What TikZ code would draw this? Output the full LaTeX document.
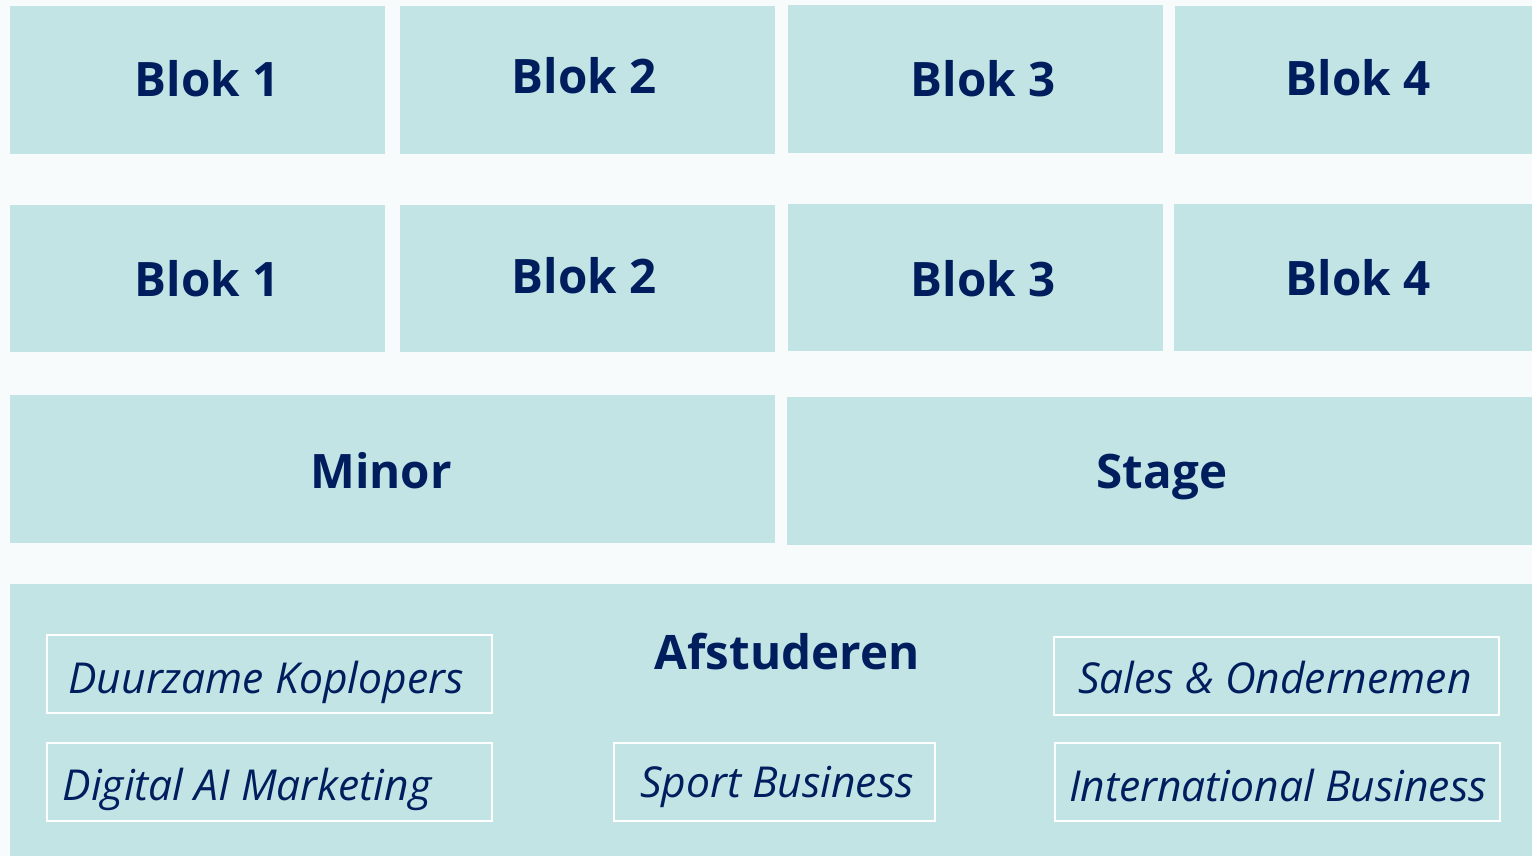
\documentclass[tikz,border=0pt]{standalone}
\usepackage{fontspec}
\setmainfont{Open Sans}
\definecolor{bg}{HTML}{F7FBFC}
\definecolor{boxfill}{HTML}{C2E4E4}
\definecolor{navy}{HTML}{001E5E}
\tikzset{
  cell/.style={fill=boxfill, draw=none, inner sep=0pt, outer sep=0pt},
  title/.style={font=\fontsize{47.5}{57}\selectfont\bfseries, text=navy, anchor=base, inner sep=0pt},
  track/.style={draw=white, line width=2pt, fill=none},
  tracktext/.style={font=\fontsize{42.6}{51}\selectfont\itshape, text=navy, anchor=base, inner sep=0pt},
}
\begin{document}
\begin{tikzpicture}[x=1pt,y=-1pt]
\fill[bg] (0,0) rectangle (1532,856);
\useasboundingbox (0,0) rectangle (1532,856);
% row 1
\path[cell] (10,6) rectangle (385,154);
\path[cell] (400,6) rectangle (775,154);
\path[cell] (788,5) rectangle (1163,153);
\path[cell] (1175,6) rectangle (1532,154);
\node[title] (b11) at (207,97) {Blok 1};
\node[title] (b12) at (584,94) {Blok 2};
\node[title] (b13) at (983,97) {Blok 3};
\node[title] (b14) at (1358,96) {Blok 4};
% row 2
\path[cell] (10,205) rectangle (385,352);
\path[cell] (400,205) rectangle (775,352);
\path[cell] (788,204) rectangle (1163,351);
\path[cell] (1174,204) rectangle (1532,351);
\node[title] (b21) at (207,296) {Blok 1};
\node[title] (b22) at (584,293) {Blok 2};
\node[title] (b23) at (983,296) {Blok 3};
\node[title] (b24) at (1358,295) {Blok 4};
% row 3
\path[cell] (10,395) rectangle (775,543);
\path[cell] (787,397) rectangle (1532,545);
\node[title] (minor) at (381,488) {Minor};
\node[title] (stage) at (1162,488) {Stage};
% row 4
\path[cell] (10,584) rectangle (1532,856);
\node[title] (afst) at (787,669) {Afstuderen};
\draw[track] (47,635) rectangle (492,713);
\draw[track] (47,743) rectangle (492,821);
\draw[track] (614,743) rectangle (935,821);
\draw[track] (1054,637) rectangle (1499,715);
\draw[track] (1055,743) rectangle (1500,821);
\node[tracktext] (duur) at (266,693) {Duurzame Koplopers};
\node[tracktext] (dig) at (247,800) {Digital AI Marketing};
\node[tracktext] (sport) at (777,797) {Sport Business};
\node[tracktext] (sales) at (1275,693) {Sales \& Ondernemen};
\node[tracktext] (intl) at (1278,801) {International Business};
\end{tikzpicture}
\end{document}
